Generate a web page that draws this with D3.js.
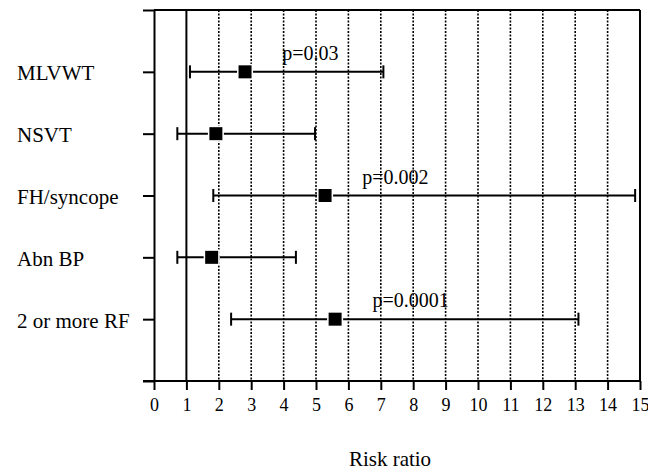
<!DOCTYPE html>
<html>
<head>
<meta charset="utf-8">
<script src="https://cdn.jsdelivr.net/npm/d3@7"></script>
<style>
  body { margin: 0; background: #fff; }
  text { font-family: "Liberation Serif", "Times New Roman", serif; fill: #000; }
  .axis path, .axis line { stroke: #000; stroke-width: 2; }
  .axis text { font-size: 18px; }
</style>
</head>
<body>
<svg width="648" height="470"></svg>
<script>
// risk factors, top to bottom
const factors = ['MLVWT', 'NSVT', 'FH/syncope', 'Abn BP', '2 or more RF']
const riskRatio = [2.81, 1.91, 5.28, 1.78, 5.59]
const ciLow = [1.11, 0.72, 1.83, 0.72, 2.38]
const ciHigh = [7.08, 4.97, 14.85, 4.38, 13.1]
const pValues = ['p=0.03', '', 'p=0.002', '', 'p=0.0001']
const xTicks = d3.range(0, 16)

let svg = d3.select('svg'),
    margin = {top: 10, bottom: 89, left: 154, right: 8},
    width = svg.attr('width') - margin.left - margin.right,
    height = svg.attr('height') - margin.top - margin.bottom

let data = factors.map((f, i) => ({factor: f, rr: riskRatio[i], lo: ciLow[i], hi: ciHigh[i], p: pValues[i], row: i + 1}))

let xScale = d3.scaleLinear().domain([0, 15]).range([margin.left, margin.left + width]),
    yScale = d3.scaleLinear().domain([0, factors.length + 1]).range([margin.top, margin.top + height])

//dotted grid lines
svg.selectAll('.grid')
    .data(xTicks.filter(d => d > 1 && d < 15))
    .enter()
    .append('line')
    .attr('x1', d => xScale(d)).attr('x2', d => xScale(d))
    .attr('y1', margin.top).attr('y2', margin.top + height)
    .attr('stroke', '#000')
    .attr('stroke-width', 1.6)
    .attr('stroke-dasharray', '2,1.5')

//reference line at 1
svg.append('line')
    .attr('x1', xScale(1)).attr('x2', xScale(1))
    .attr('y1', margin.top).attr('y2', margin.top + height)
    .attr('stroke', '#000').attr('stroke-width', 2)

//top and right border
svg.append('line')
    .attr('x1', margin.left).attr('x2', margin.left + width)
    .attr('y1', margin.top).attr('y2', margin.top)
    .attr('stroke', '#000').attr('stroke-width', 2)
svg.append('line')
    .attr('x1', margin.left + width).attr('x2', margin.left + width)
    .attr('y1', margin.top).attr('y2', margin.top + height)
    .attr('stroke', '#000').attr('stroke-width', 2)

//x axis
svg.append('g')
    .attr('class', 'axis')
    .attr('transform', 'translate(0,' + (margin.top + height) + ')')
    .call(d3.axisBottom(xScale).tickValues(xTicks).tickSize(9).tickSizeOuter(0).tickPadding(8))
    .call(g => g.select('.domain').attr('d', 'M' + (margin.left - 11) + ',0H' + (margin.left + width)))

//y axis (ticks only, labels drawn separately)
svg.append('g')
    .attr('class', 'axis')
    .attr('transform', 'translate(' + margin.left + ',0)')
    .call(d3.axisLeft(yScale).ticks(factors.length + 1).tickSize(11).tickSizeOuter(0).tickFormat(''))

//row labels
svg.selectAll('.label')
    .data(data)
    .enter()
    .append('text')
    .attr('x', 17)
    .attr('y', d => yScale(d.row))
    .attr('dy', '0.4em')
    .style('font-size', '21px')
    .text(d => d.factor)

//confidence intervals
let rows = svg.selectAll('.row')
    .data(data)
    .enter()
    .append('g')

rows.append('line')
    .attr('x1', d => xScale(d.lo)).attr('x2', d => xScale(d.hi))
    .attr('y1', d => yScale(d.row)).attr('y2', d => yScale(d.row))
    .attr('stroke', '#000').attr('stroke-width', 2)
rows.selectAll('.cap')
    .data(d => [[d.lo, d.row], [d.hi, d.row]])
    .enter()
    .append('line')
    .attr('x1', d => xScale(d[0])).attr('x2', d => xScale(d[0]))
    .attr('y1', d => yScale(d[1]) - 6.5).attr('y2', d => yScale(d[1]) + 6.5)
    .attr('stroke', '#000').attr('stroke-width', 2)

//point estimates
rows.append('rect')
    .attr('x', d => xScale(d.rr) - 6.5)
    .attr('y', d => yScale(d.row) - 6.5)
    .attr('width', 13).attr('height', 13)
    .attr('fill', '#000')
    .attr('stroke', '#fff').attr('stroke-width', 3)
    .attr('paint-order', 'stroke')

//p values
rows.filter(d => d.p)
    .append('text')
    .attr('x', d => xScale(d.rr + 1.15))
    .attr('y', d => yScale(d.row) - 12)
    .style('font-size', '20px')
    .text(d => d.p)

//x axis title
svg.append('text')
    .attr('text-anchor', 'middle')
    .attr('x', margin.left + width / 2 - 7)
    .attr('y', 466)
    .style('font-size', '21px')
    .text('Risk ratio')
</script>
</body>
</html>
